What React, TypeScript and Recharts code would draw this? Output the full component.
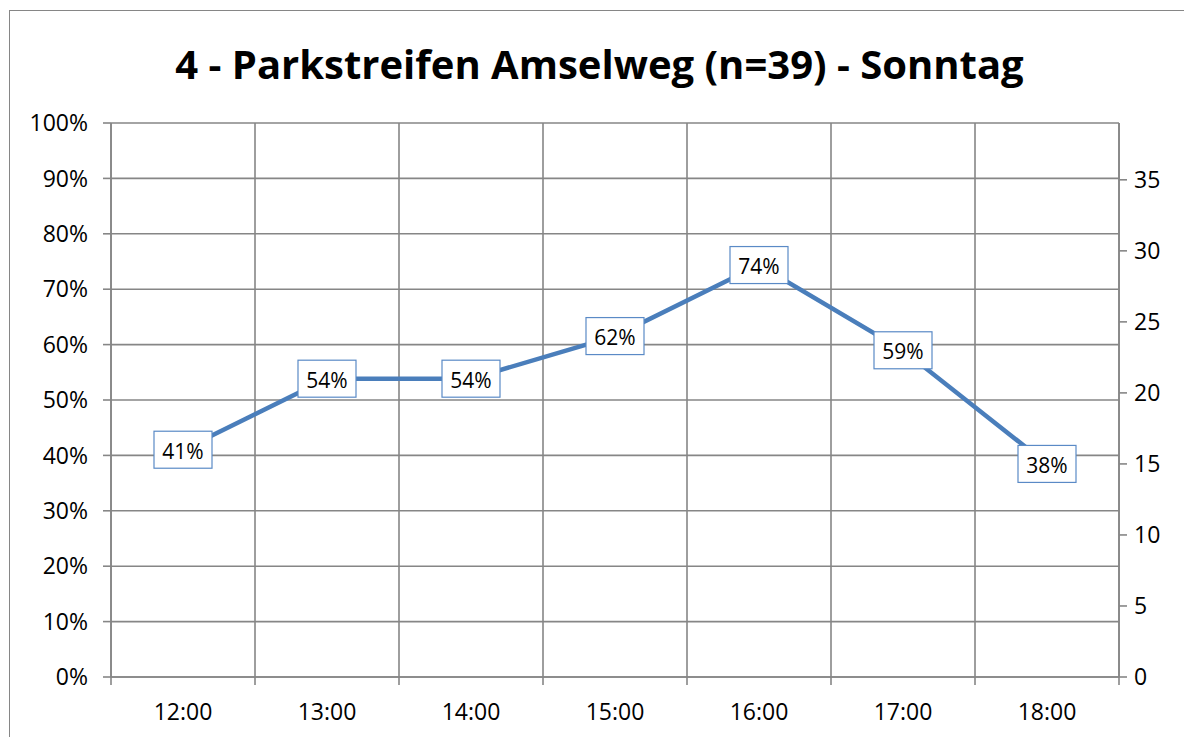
import React from "react";
import { LineChart, Line, XAxis, YAxis, CartesianGrid, LabelList } from "recharts";

const TITLE = "4 - Parkstreifen Amselweg (n=39) - Sonntag";
const N = 39;
const times = ["12:00", "13:00", "14:00", "15:00", "16:00", "17:00", "18:00"];
const counts = [16, 21, 21, 24, 29, 23, 15];
const leftTicks = [0, 0.1, 0.2, 0.3, 0.4, 0.5, 0.6, 0.7, 0.8, 0.9, 1];
const rightTicks = [0, 5, 10, 15, 20, 25, 30, 35];

const data = times.map((t, i) => ({
  time: t,
  pos: i + 0.5,
  count: counts[i],
  pct: counts[i] / N,
}));
const boundaryTicks = times.map((_, i) => i).concat([times.length]);

const FONT = "'Open Sans', sans-serif";
const GRID = "#868686";
const LINE = "#4a7ebb";

const EmptyTick = () => <g />;

const BoxLabel = (props: any) => {
  const { x, y, value } = props;
  const w = 58;
  const h = 37;
  return (
    <g>
      <rect x={x - w / 2} y={y - h / 2} width={w} height={h} fill="#fff" stroke="#5a8ac6" strokeWidth={1.2} />
      <text x={x} y={y + 1} textAnchor="middle" dominantBaseline="central" fontSize={21} fontFamily={FONT} fill="#000">
        {Math.round(value * 100) + "%"}
      </text>
    </g>
  );
};

export default function App() {
  return (
    <div style={{ position: "fixed", left: 0, top: 0, width: 1184, height: 737, overflow: "hidden", background: "#fff" }}>
      <div style={{ position: "absolute", left: 9, top: 10, width: 1400, height: 1000, borderLeft: `1px solid ${GRID}`, borderTop: `1px solid ${GRID}` }} />
      <div
        style={{
          position: "absolute",
          left: 0,
          width: 1199,
          top: 36,
          textAlign: "center",
          fontFamily: FONT,
          fontWeight: 700,
          fontSize: 40,
          lineHeight: "56px",
          color: "#000",
        }}
      >
        {TITLE}
      </div>
      <div style={{ position: "absolute", left: 0, top: 0 }}>
        <LineChart width={1184} height={737} data={data} margin={{ top: 123, right: 0, bottom: 0, left: 0 }}>
          <CartesianGrid stroke={GRID} strokeWidth={1.6} verticalValues={boundaryTicks} horizontalValues={leftTicks} />
          <XAxis
            type="number"
            dataKey="pos"
            domain={[0, times.length]}
            ticks={boundaryTicks}
            tick={EmptyTick}
            tickSize={8}
            height={8}
            stroke={GRID}
            strokeWidth={1.6}
            interval={0}
            allowDataOverflow
          />
          <XAxis
            xAxisId="labels"
            type="category"
            dataKey="time"
            scale="band"
            axisLine={false}
            tickLine={false}
            tickSize={0}
            tickMargin={19}
            height={52}
            tick={{ fontSize: 23, fontFamily: FONT, fill: "#000" }}
            interval={0}
          />
          <YAxis
            domain={[0, 1]}
            ticks={leftTicks}
            tickFormatter={(v: number) => Math.round(v * 100) + "%"}
            width={111}
            tickSize={8}
            tickMargin={15}
            stroke={GRID}
            strokeWidth={1.6}
            tick={{ fontSize: 23, fontFamily: FONT, fill: "#000" }}
            interval={0}
          />
          <YAxis
            yAxisId="right"
            orientation="right"
            domain={[0, N]}
            ticks={rightTicks}
            width={65}
            tickSize={8}
            tickMargin={7}
            stroke={GRID}
            strokeWidth={1.6}
            tick={{ fontSize: 23, fontFamily: FONT, fill: "#000", textAnchor: "start" }}
            interval={0}
          />
          <Line yAxisId="right" dataKey="count" stroke="none" dot={false} activeDot={false} isAnimationActive={false} legendType="none" />
          <Line dataKey="pct" stroke={LINE} strokeWidth={4.5} dot={false} activeDot={false} isAnimationActive={false}>
            <LabelList dataKey="pct" content={BoxLabel} />
          </Line>
        </LineChart>
      </div>
    </div>
  );
}
